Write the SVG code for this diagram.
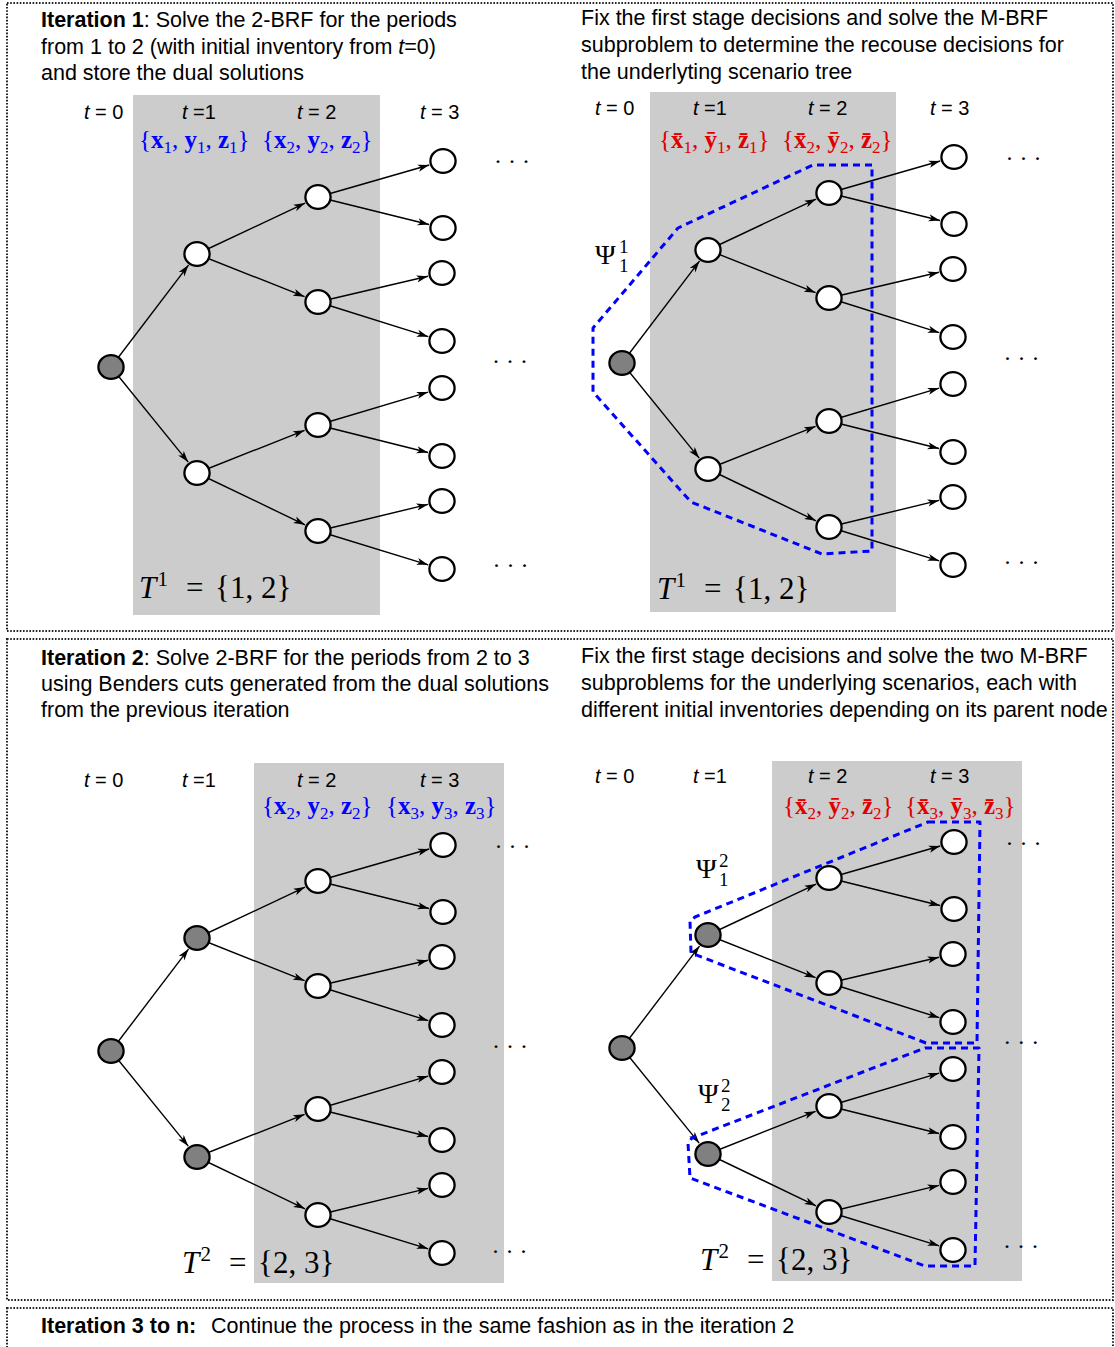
<svg xmlns="http://www.w3.org/2000/svg" width="1115" height="1347" viewBox="0 0 1115 1347">
<defs>
<style>
.frame{fill:none;stroke:#222;stroke-width:2;stroke-dasharray:1.6 1.6}
.band{fill:#cccccc}
.h{font-family:"Liberation Sans",Arial,sans-serif;font-size:21.5px;fill:#000}
.b{font-weight:bold}
.tl{font-family:"Liberation Sans",Arial,sans-serif;font-size:20px;fill:#000}
.it{font-style:italic}
.m{font-family:"Liberation Serif","Times New Roman",serif;font-size:25px}
.mb{fill:#0000ff}
.mr{fill:#e00000}
.bf{font-weight:bold}
.sub{font-size:17px}
.big{font-family:"Liberation Serif","Times New Roman",serif;font-size:31px;fill:#000}
.sup{font-size:21px}
.psi{font-family:"Liberation Serif","Times New Roman",serif;font-size:28px;fill:#000}
.ps{font-size:19px}
.dots{font-family:"Liberation Serif","Times New Roman",serif;font-size:24px;fill:#000;text-anchor:middle}
.e{fill:none;stroke:#000;stroke-width:1.4;marker-end:url(#ah)}
.n ellipse{fill:#fff;stroke:#000;stroke-width:2.3}
.g ellipse{fill:#808080}
.reg{fill:none;stroke:#0000ff;stroke-width:3;stroke-dasharray:7 5;stroke-linejoin:round}
</style>
<marker id="ah" viewBox="0 0 12 8" refX="11.5" refY="4" markerWidth="12" markerHeight="8" markerUnits="userSpaceOnUse" orient="auto">
<path d="M0,0.4 L11.5,4 L0,7.6 L3,4 Z" fill="#000"/>
</marker>
</defs>

<!-- frames -->
<rect class="frame" x="7" y="3" width="1106" height="628"/>
<rect class="frame" x="7" y="639" width="1106" height="661"/>
<rect class="frame" x="7" y="1308" width="1106" height="45"/>

<!-- shaded bands -->
<rect class="band" x="133" y="95" width="247" height="520"/>
<rect class="band" x="650" y="92" width="246" height="520"/>
<rect class="band" x="254" y="763" width="250" height="520"/>
<rect class="band" x="772" y="761" width="250" height="520"/>

<!-- headings -->
<text class="h" x="41" y="27"><tspan class="b">Iteration 1</tspan>: Solve the 2-BRF for the periods</text>
<text class="h" x="41" y="53.5">from 1 to 2 (with initial inventory from <tspan class="it">t</tspan>=0)</text>
<text class="h" x="41" y="80">and store the dual solutions</text>

<text class="h" x="581" y="25">Fix the first stage decisions and solve the M-BRF</text>
<text class="h" x="581" y="52">subproblem to determine the recouse decisions for</text>
<text class="h" x="581" y="79">the underlyting scenario tree</text>

<text class="h" x="41" y="665"><tspan class="b">Iteration 2</tspan>: Solve 2-BRF for the periods from 2 to 3</text>
<text class="h" x="41" y="691">using Benders cuts generated from the dual solutions</text>
<text class="h" x="41" y="717">from the previous iteration</text>

<text class="h" x="581" y="663">Fix the first stage decisions and solve the two M-BRF</text>
<text class="h" x="581" y="690">subproblems for the underlying scenarios, each with</text>
<text class="h" x="581" y="717">different initial inventories depending on its parent node</text>

<text class="h" x="41" y="1333"><tspan class="b">Iteration 3 to n:</tspan><tspan x="211">Continue the process in the same fashion as in the iteration 2</tspan></text>

<!-- time labels -->
<g class="tl">
<text x="84" y="119"><tspan class="it">t</tspan> = 0</text>
<text x="182" y="119"><tspan class="it">t</tspan> =1</text>
<text x="297" y="119"><tspan class="it">t</tspan> = 2</text>
<text x="420" y="119"><tspan class="it">t</tspan> = 3</text>
<text x="595" y="115"><tspan class="it">t</tspan> = 0</text>
<text x="693" y="115"><tspan class="it">t</tspan> =1</text>
<text x="808" y="115"><tspan class="it">t</tspan> = 2</text>
<text x="930" y="115"><tspan class="it">t</tspan> = 3</text>
<text x="84" y="787"><tspan class="it">t</tspan> = 0</text>
<text x="182" y="787"><tspan class="it">t</tspan> =1</text>
<text x="297" y="787"><tspan class="it">t</tspan> = 2</text>
<text x="420" y="787"><tspan class="it">t</tspan> = 3</text>
<text x="595" y="783"><tspan class="it">t</tspan> = 0</text>
<text x="693" y="783"><tspan class="it">t</tspan> =1</text>
<text x="808" y="783"><tspan class="it">t</tspan> = 2</text>
<text x="930" y="783"><tspan class="it">t</tspan> = 3</text>
</g>

<!-- decision sets -->
<text class="m mb" x="139" y="148">{<tspan class="bf">x</tspan><tspan class="sub" dy="5">1</tspan><tspan dy="-5">, </tspan><tspan class="bf">y</tspan><tspan class="sub" dy="5">1</tspan><tspan dy="-5">, </tspan><tspan class="bf">z</tspan><tspan class="sub" dy="5">1</tspan><tspan dy="-5">}</tspan></text>
<text class="m mb" x="262" y="148">{<tspan class="bf">x</tspan><tspan class="sub" dy="5">2</tspan><tspan dy="-5">, </tspan><tspan class="bf">y</tspan><tspan class="sub" dy="5">2</tspan><tspan dy="-5">, </tspan><tspan class="bf">z</tspan><tspan class="sub" dy="5">2</tspan><tspan dy="-5">}</tspan></text>
<text class="m mr" x="659" y="148">{<tspan class="bf">x&#x304;</tspan><tspan class="sub" dy="5">1</tspan><tspan dy="-5">, </tspan><tspan class="bf">y&#x304;</tspan><tspan class="sub" dy="5">1</tspan><tspan dy="-5">, </tspan><tspan class="bf">z&#x304;</tspan><tspan class="sub" dy="5">1</tspan><tspan dy="-5">}</tspan></text>
<text class="m mr" x="782" y="148">{<tspan class="bf">x&#x304;</tspan><tspan class="sub" dy="5">2</tspan><tspan dy="-5">, </tspan><tspan class="bf">y&#x304;</tspan><tspan class="sub" dy="5">2</tspan><tspan dy="-5">, </tspan><tspan class="bf">z&#x304;</tspan><tspan class="sub" dy="5">2</tspan><tspan dy="-5">}</tspan></text>
<text class="m mb" x="262" y="814">{<tspan class="bf">x</tspan><tspan class="sub" dy="5">2</tspan><tspan dy="-5">, </tspan><tspan class="bf">y</tspan><tspan class="sub" dy="5">2</tspan><tspan dy="-5">, </tspan><tspan class="bf">z</tspan><tspan class="sub" dy="5">2</tspan><tspan dy="-5">}</tspan></text>
<text class="m mb" x="386" y="814">{<tspan class="bf">x</tspan><tspan class="sub" dy="5">3</tspan><tspan dy="-5">, </tspan><tspan class="bf">y</tspan><tspan class="sub" dy="5">3</tspan><tspan dy="-5">, </tspan><tspan class="bf">z</tspan><tspan class="sub" dy="5">3</tspan><tspan dy="-5">}</tspan></text>
<text class="m mr" x="783" y="814">{<tspan class="bf">x&#x304;</tspan><tspan class="sub" dy="5">2</tspan><tspan dy="-5">, </tspan><tspan class="bf">y&#x304;</tspan><tspan class="sub" dy="5">2</tspan><tspan dy="-5">, </tspan><tspan class="bf">z&#x304;</tspan><tspan class="sub" dy="5">2</tspan><tspan dy="-5">}</tspan></text>
<text class="m mr" x="905" y="814">{<tspan class="bf">x&#x304;</tspan><tspan class="sub" dy="5">3</tspan><tspan dy="-5">, </tspan><tspan class="bf">y&#x304;</tspan><tspan class="sub" dy="5">3</tspan><tspan dy="-5">, </tspan><tspan class="bf">z&#x304;</tspan><tspan class="sub" dy="5">3</tspan><tspan dy="-5">}</tspan></text>

<!-- T labels -->
<text class="big" x="139" y="598"><tspan class="it">T</tspan><tspan class="sup" x="157.5" dy="-12">1</tspan><tspan x="186" dy="12">=</tspan><tspan x="215">{1, 2}</tspan></text>
<text class="big" x="657" y="599"><tspan class="it">T</tspan><tspan class="sup" x="675.5" dy="-12">1</tspan><tspan x="704" dy="12">=</tspan><tspan x="733">{1, 2}</tspan></text>
<text class="big" x="182" y="1273"><tspan class="it">T</tspan><tspan class="sup" x="200.5" dy="-12">2</tspan><tspan x="229" dy="12">=</tspan><tspan x="258">{2, 3}</tspan></text>
<text class="big" x="700" y="1270"><tspan class="it">T</tspan><tspan class="sup" x="718.5" dy="-12">2</tspan><tspan x="747" dy="12">=</tspan><tspan x="776">{2, 3}</tspan></text>

<!-- dots -->
<g class="dots">
<text x="512" y="169">· · ·</text>
<text x="510" y="369">· · ·</text>
<text x="510.5" y="573">· · ·</text>
<text x="1023.5" y="166">· · ·</text>
<text x="1021.5" y="366">· · ·</text>
<text x="1021.5" y="570">· · ·</text>
<text x="512.5" y="854">· · ·</text>
<text x="510" y="1054">· · ·</text>
<text x="509.5" y="1259">· · ·</text>
<text x="1023.5" y="851">· · ·</text>
<text x="1021.3" y="1050">· · ·</text>
<text x="1021" y="1254">· · ·</text>
</g>

<!-- Tree 1 (top left) -->
<g id="tree1" transform="translate(111,367)">
<g id="tree1-connectors">
<path class="e" d="M0,0L77.5,-101.9"/>
<path class="e" d="M0,0L77.2,95.1"/>
<path class="e" d="M86,-113L194.1,-163.9"/>
<path class="e" d="M86,-113L193.6,-70.3"/>
<path class="e" d="M86,106L193.6,63.3"/>
<path class="e" d="M86,106L194,157.8"/>
<path class="e" d="M207,-170L318.2,-202"/>
<path class="e" d="M207,-170L318,-142.5"/>
<path class="e" d="M207,-65L317,-90.7"/>
<path class="e" d="M207,-65L317.3,-30.3"/>
<path class="e" d="M207,58L317.2,25.1"/>
<path class="e" d="M207,58L317,85.5"/>
<path class="e" d="M207,164L317,137.4"/>
<path class="e" d="M207,164L317.2,197.8"/>
</g>
<g id="t1-r" class="n g"><ellipse cx="0" cy="0" rx="12.6" ry="11.9"/></g>
<g id="t1-a" class="n"><ellipse cx="86" cy="-113" rx="12.6" ry="11.9"/></g>
<g id="t1-b" class="n"><ellipse cx="86" cy="106" rx="12.6" ry="11.9"/></g>
<g id="t1-a1" class="n"><ellipse cx="207" cy="-170" rx="12.6" ry="11.9"/></g>
<g id="t1-a2" class="n"><ellipse cx="207" cy="-65" rx="12.6" ry="11.9"/></g>
<g id="t1-b1" class="n"><ellipse cx="207" cy="58" rx="12.6" ry="11.9"/></g>
<g id="t1-b2" class="n"><ellipse cx="207" cy="164" rx="12.6" ry="11.9"/></g>
<g id="t1-l1" class="n"><ellipse cx="332" cy="-206" rx="12.6" ry="11.9"/></g>
<g id="t1-l2" class="n"><ellipse cx="332" cy="-139" rx="12.6" ry="11.9"/></g>
<g id="t1-l3" class="n"><ellipse cx="331" cy="-94" rx="12.6" ry="11.9"/></g>
<g id="t1-l4" class="n"><ellipse cx="331" cy="-26" rx="12.6" ry="11.9"/></g>
<g id="t1-l5" class="n"><ellipse cx="331" cy="21" rx="12.6" ry="11.9"/></g>
<g id="t1-l6" class="n"><ellipse cx="331" cy="89" rx="12.6" ry="11.9"/></g>
<g id="t1-l7" class="n"><ellipse cx="331" cy="134" rx="12.6" ry="11.9"/></g>
<g id="t1-l8" class="n"><ellipse cx="331" cy="202" rx="12.6" ry="11.9"/></g>
</g>

<!-- Tree 2 (top right) -->
<g id="tree2" transform="translate(622,363)">
<g id="tree2-connectors">
<path class="e" d="M0,0L77.5,-101.9"/>
<path class="e" d="M0,0L77.2,95.1"/>
<path class="e" d="M86,-113L194.1,-163.9"/>
<path class="e" d="M86,-113L193.6,-70.3"/>
<path class="e" d="M86,106L193.6,63.3"/>
<path class="e" d="M86,106L194,157.8"/>
<path class="e" d="M207,-170L318.2,-202"/>
<path class="e" d="M207,-170L318,-142.5"/>
<path class="e" d="M207,-65L317,-90.7"/>
<path class="e" d="M207,-65L317.3,-30.3"/>
<path class="e" d="M207,58L317.2,25.1"/>
<path class="e" d="M207,58L317,85.5"/>
<path class="e" d="M207,164L317,137.4"/>
<path class="e" d="M207,164L317.2,197.8"/>
</g>
<g id="t2-r" class="n g"><ellipse cx="0" cy="0" rx="12.6" ry="11.9"/></g>
<g id="t2-a" class="n"><ellipse cx="86" cy="-113" rx="12.6" ry="11.9"/></g>
<g id="t2-b" class="n"><ellipse cx="86" cy="106" rx="12.6" ry="11.9"/></g>
<g id="t2-a1" class="n"><ellipse cx="207" cy="-170" rx="12.6" ry="11.9"/></g>
<g id="t2-a2" class="n"><ellipse cx="207" cy="-65" rx="12.6" ry="11.9"/></g>
<g id="t2-b1" class="n"><ellipse cx="207" cy="58" rx="12.6" ry="11.9"/></g>
<g id="t2-b2" class="n"><ellipse cx="207" cy="164" rx="12.6" ry="11.9"/></g>
<g id="t2-l1" class="n"><ellipse cx="332" cy="-206" rx="12.6" ry="11.9"/></g>
<g id="t2-l2" class="n"><ellipse cx="332" cy="-139" rx="12.6" ry="11.9"/></g>
<g id="t2-l3" class="n"><ellipse cx="331" cy="-94" rx="12.6" ry="11.9"/></g>
<g id="t2-l4" class="n"><ellipse cx="331" cy="-26" rx="12.6" ry="11.9"/></g>
<g id="t2-l5" class="n"><ellipse cx="331" cy="21" rx="12.6" ry="11.9"/></g>
<g id="t2-l6" class="n"><ellipse cx="331" cy="89" rx="12.6" ry="11.9"/></g>
<g id="t2-l7" class="n"><ellipse cx="331" cy="134" rx="12.6" ry="11.9"/></g>
<g id="t2-l8" class="n"><ellipse cx="331" cy="202" rx="12.6" ry="11.9"/></g>
</g>

<!-- Tree 3 (bottom left) -->
<g id="tree3" transform="translate(111,1051)">
<g id="tree3-connectors">
<path class="e" d="M0,0L77.5,-101.9"/>
<path class="e" d="M0,0L77.2,95.1"/>
<path class="e" d="M86,-113L194.1,-163.9"/>
<path class="e" d="M86,-113L193.6,-70.3"/>
<path class="e" d="M86,106L193.6,63.3"/>
<path class="e" d="M86,106L194,157.8"/>
<path class="e" d="M207,-170L318.2,-202"/>
<path class="e" d="M207,-170L318,-142.5"/>
<path class="e" d="M207,-65L317,-90.7"/>
<path class="e" d="M207,-65L317.3,-30.3"/>
<path class="e" d="M207,58L317.2,25.1"/>
<path class="e" d="M207,58L317,85.5"/>
<path class="e" d="M207,164L317,137.4"/>
<path class="e" d="M207,164L317.2,197.8"/>
</g>
<g id="t3-r" class="n g"><ellipse cx="0" cy="0" rx="12.6" ry="11.9"/></g>
<g id="t3-a" class="n g"><ellipse cx="86" cy="-113" rx="12.6" ry="11.9"/></g>
<g id="t3-b" class="n g"><ellipse cx="86" cy="106" rx="12.6" ry="11.9"/></g>
<g id="t3-a1" class="n"><ellipse cx="207" cy="-170" rx="12.6" ry="11.9"/></g>
<g id="t3-a2" class="n"><ellipse cx="207" cy="-65" rx="12.6" ry="11.9"/></g>
<g id="t3-b1" class="n"><ellipse cx="207" cy="58" rx="12.6" ry="11.9"/></g>
<g id="t3-b2" class="n"><ellipse cx="207" cy="164" rx="12.6" ry="11.9"/></g>
<g id="t3-l1" class="n"><ellipse cx="332" cy="-206" rx="12.6" ry="11.9"/></g>
<g id="t3-l2" class="n"><ellipse cx="332" cy="-139" rx="12.6" ry="11.9"/></g>
<g id="t3-l3" class="n"><ellipse cx="331" cy="-94" rx="12.6" ry="11.9"/></g>
<g id="t3-l4" class="n"><ellipse cx="331" cy="-26" rx="12.6" ry="11.9"/></g>
<g id="t3-l5" class="n"><ellipse cx="331" cy="21" rx="12.6" ry="11.9"/></g>
<g id="t3-l6" class="n"><ellipse cx="331" cy="89" rx="12.6" ry="11.9"/></g>
<g id="t3-l7" class="n"><ellipse cx="331" cy="134" rx="12.6" ry="11.9"/></g>
<g id="t3-l8" class="n"><ellipse cx="331" cy="202" rx="12.6" ry="11.9"/></g>
</g>

<!-- Tree 4 (bottom right) -->
<g id="tree4" transform="translate(622,1048)">
<g id="tree4-connectors">
<path class="e" d="M0,0L77.5,-101.9"/>
<path class="e" d="M0,0L77.2,95.1"/>
<path class="e" d="M86,-113L194.1,-163.9"/>
<path class="e" d="M86,-113L193.6,-70.3"/>
<path class="e" d="M86,106L193.6,63.3"/>
<path class="e" d="M86,106L194,157.8"/>
<path class="e" d="M207,-170L318.2,-202"/>
<path class="e" d="M207,-170L318,-142.5"/>
<path class="e" d="M207,-65L317,-90.7"/>
<path class="e" d="M207,-65L317.3,-30.3"/>
<path class="e" d="M207,58L317.2,25.1"/>
<path class="e" d="M207,58L317,85.5"/>
<path class="e" d="M207,164L317,137.4"/>
<path class="e" d="M207,164L317.2,197.8"/>
</g>
<g id="t4-r" class="n g"><ellipse cx="0" cy="0" rx="12.6" ry="11.9"/></g>
<g id="t4-a" class="n g"><ellipse cx="86" cy="-113" rx="12.6" ry="11.9"/></g>
<g id="t4-b" class="n g"><ellipse cx="86" cy="106" rx="12.6" ry="11.9"/></g>
<g id="t4-a1" class="n"><ellipse cx="207" cy="-170" rx="12.6" ry="11.9"/></g>
<g id="t4-a2" class="n"><ellipse cx="207" cy="-65" rx="12.6" ry="11.9"/></g>
<g id="t4-b1" class="n"><ellipse cx="207" cy="58" rx="12.6" ry="11.9"/></g>
<g id="t4-b2" class="n"><ellipse cx="207" cy="164" rx="12.6" ry="11.9"/></g>
<g id="t4-l1" class="n"><ellipse cx="332" cy="-206" rx="12.6" ry="11.9"/></g>
<g id="t4-l2" class="n"><ellipse cx="332" cy="-139" rx="12.6" ry="11.9"/></g>
<g id="t4-l3" class="n"><ellipse cx="331" cy="-94" rx="12.6" ry="11.9"/></g>
<g id="t4-l4" class="n"><ellipse cx="331" cy="-26" rx="12.6" ry="11.9"/></g>
<g id="t4-l5" class="n"><ellipse cx="331" cy="21" rx="12.6" ry="11.9"/></g>
<g id="t4-l6" class="n"><ellipse cx="331" cy="89" rx="12.6" ry="11.9"/></g>
<g id="t4-l7" class="n"><ellipse cx="331" cy="134" rx="12.6" ry="11.9"/></g>
<g id="t4-l8" class="n"><ellipse cx="331" cy="202" rx="12.6" ry="11.9"/></g>
</g>

<!-- subproblem regions -->
<g id="regions">
<path class="reg" d="M872,165 L813,165 L678,228 L593,328 L593,392 L691,502 L822,554 L872,551 Z"/>
<path class="reg" d="M928,822 L980,822 L977,1043 L926,1043 L691,953 L690,921 L695,917 Z"/>
<path class="reg" d="M925,1048 L979,1048 L975,1266 L925,1266 L690,1178 L688,1143 L692,1138 Z"/>
</g>

<!-- Psi labels -->
<text class="psi" x="595" y="264">Ψ<tspan class="ps" x="619" dy="-11">1</tspan><tspan class="ps" x="619" dy="19">1</tspan></text>
<text class="psi" x="696" y="878">Ψ<tspan class="ps" x="719" dy="-11">2</tspan><tspan class="ps" x="719" dy="19">1</tspan></text>
<text class="psi" x="698" y="1103">Ψ<tspan class="ps" x="721" dy="-11">2</tspan><tspan class="ps" x="721" dy="19">2</tspan></text>
</svg>
